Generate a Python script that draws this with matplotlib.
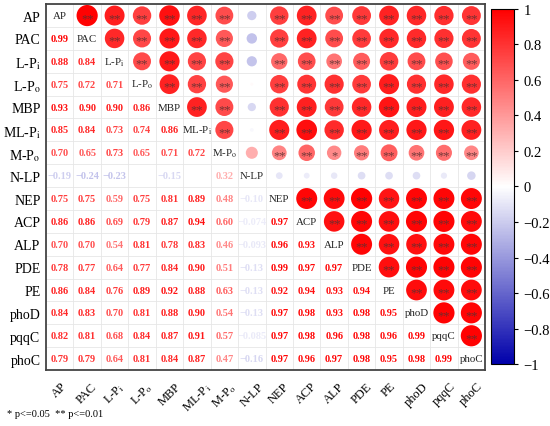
import matplotlib
matplotlib.use("Agg")
import matplotlib.pyplot as plt
import numpy as np
from matplotlib.colors import LinearSegmentedColormap, Normalize

plt.rcParams['font.family'] = ['Liberation Serif', 'DejaVu Serif']
plt.rcParams['mathtext.fontset'] = 'stix'

names = ['AP', 'PAC', 'L-P$_\\mathrm{i}$', 'L-P$_\\mathrm{o}$', 'MBP', 'ML-P$_\\mathrm{i}$',
         'M-P$_\\mathrm{o}$', 'N-LP', 'NEP', 'ACP', 'ALP', 'PDE', 'PE', 'phoD', 'pqqC', 'phoC']

# lower triangle, row by row
lower = [
    [],
    [0.99],
    [0.88, 0.84],
    [0.75, 0.72, 0.71],
    [0.93, 0.90, 0.90, 0.86],
    [0.85, 0.84, 0.73, 0.74, 0.86],
    [0.70, 0.65, 0.73, 0.65, 0.71, 0.72],
    [-0.19, -0.24, -0.23, 0.02, -0.15, -0.03, 0.32],
    [0.75, 0.75, 0.59, 0.75, 0.81, 0.89, 0.48, -0.10],
    [0.86, 0.86, 0.69, 0.79, 0.87, 0.94, 0.60, -0.074, 0.97],
    [0.70, 0.70, 0.54, 0.81, 0.78, 0.83, 0.46, -0.093, 0.96, 0.93],
    [0.78, 0.77, 0.64, 0.77, 0.84, 0.90, 0.51, -0.13, 0.99, 0.97, 0.97],
    [0.86, 0.84, 0.76, 0.89, 0.92, 0.88, 0.63, -0.13, 0.92, 0.94, 0.93, 0.94],
    [0.84, 0.83, 0.70, 0.81, 0.88, 0.90, 0.54, -0.13, 0.97, 0.98, 0.93, 0.98, 0.95],
    [0.82, 0.81, 0.68, 0.84, 0.87, 0.91, 0.57, -0.085, 0.97, 0.98, 0.96, 0.98, 0.96, 0.99],
    [0.79, 0.79, 0.64, 0.81, 0.84, 0.87, 0.47, -0.16, 0.97, 0.96, 0.97, 0.98, 0.95, 0.98, 0.99],
]
# critical |r| for p<=0.05 and p<=0.01
r_crit = [0.361, 0.463]

n = len(names)
R = np.eye(n)
for i, row in enumerate(lower):
    for j, v in enumerate(row):
        R[i, j] = v
        R[j, i] = v

cmap = LinearSegmentedColormap.from_list('bwr2', ['#0000AA', '#FFFFFF', '#FF0000'])
norm = Normalize(-1, 1)

fig = plt.figure(figsize=(5.5, 4.27), dpi=100)
ax = fig.add_axes([0.0836, 0.131, 0.7984, 0.857])
ax.set_xlim(-0.5, n - 0.5)
ax.set_ylim(n - 0.5, -0.5)

for k in range(n + 1):
    ax.axhline(k - 0.5, color='#e6e6e6', lw=0.6, zorder=0)
    ax.axvline(k - 0.5, color='#e6e6e6', lw=0.6, zorder=0)

for i in range(n):
    for j in range(n):
        r = R[i, j]
        if i == j:
            ax.text(j, i, names[i], ha='center', va='center', fontsize=7.8, color='#222222')
        elif j < i:
            if abs(r) < 0.05:
                continue
            txt = ('%.3f' % r if abs(r) < 0.1 else '%.2f' % r).replace('-', '\u2212')
            ax.text(j, i, txt, ha='center', va='center', fontsize=7.5, fontweight='bold',
                    color=cmap(norm(r)))
        else:
            ax.scatter(j, i, s=235 * abs(r), color=cmap(norm(r)), edgecolors='none', zorder=2)
            stars = '**' if abs(r) >= r_crit[1] else ('*' if abs(r) >= r_crit[0] else '')
            if stars:
                ax.text(j, i + 0.1, stars, ha='center', va='center', fontsize=9,
                        color='#5a3030', alpha=0.85, zorder=3)

ax.set_xticks(range(n))
ax.set_yticks(range(n))
ax.set_xticklabels(names, rotation=45, ha='center', va='top', fontsize=9)
ax.set_yticklabels(names, fontsize=10)
ax.tick_params(length=0, pad=4)
ax.tick_params(axis='x', pad=7)
for sp in ax.spines.values():
    sp.set_color('#444444')
    sp.set_linewidth(1.3)

cax = fig.add_axes([0.893, 0.145, 0.042, 0.832])
sm = plt.cm.ScalarMappable(cmap=cmap, norm=norm)
cb = fig.colorbar(sm, cax=cax, ticks=np.arange(-1, 1.01, 0.2))
cb.ax.set_yticklabels(['\u22121', '\u22120.8', '\u22120.6', '\u22120.4', '\u22120.2', '0',
                       '0.2', '0.4', '0.6', '0.8', '1'])
cb.ax.tick_params(labelsize=10.5, length=3, width=0.8)
cb.outline.set_linewidth(0.8)

fig.text(0.012, 0.03, '* p<=0.05  ** p<=0.01', fontsize=7.5, ha='left', va='center')

fig.savefig('out.png', dpi=100)
